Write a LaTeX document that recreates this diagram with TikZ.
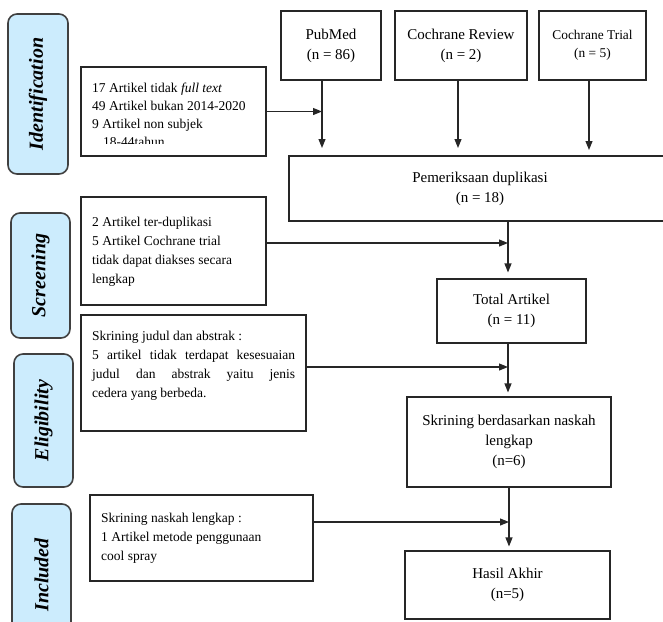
\documentclass[tikz,border=0pt]{standalone}
\usepackage{fontspec}
\setmainfont{Liberation Serif}
\usetikzlibrary{arrows.meta, positioning}
\usepackage{xcolor}
\definecolor{stagecol}{RGB}{204,236,253}

\tikzset{
  stagebox/.style={draw=black!75, line width=1.6pt, fill=stagecol, rounded corners=9pt,
    rotate=90, font=\fontsize{20}{24}\selectfont\bfseries\itshape},
  flowbox/.style={draw=black!85, line width=1.1pt, align=center,
    font=\fontsize{15}{20}\selectfont},
  notebox/.style={draw=black!85, line width=1.1pt},
  notetext/.style={anchor=north west, inner sep=0pt, align=left,
    font=\fontsize{13.5}{19}\selectfont},
  arr/.style={line width=1.1pt, draw=black!85, -{Triangle[length=9pt,width=7pt]}}
}

\begin{document}
\begin{tikzpicture}[x=1pt, y=-1pt]
  \clip (0,0) rectangle (663,621);

  % stage labels
  \node[stagebox, minimum width=160pt, minimum height=60pt] (ident) at (38,94) {Identification};
  \node[stagebox, minimum width=125pt, minimum height=59pt] (screen) at (40.5,275.5) {Screening};
  \node[stagebox, minimum width=133pt, minimum height=59pt] (elig) at (43.5,420.5) {Eligibility};
  \node[stagebox, minimum width=142pt, minimum height=59pt] (incl) at (41.5,575) {Included};

  % sources
  \node[flowbox, minimum width=100pt, minimum height=69pt] (pubmed) at (331,45.5) {PubMed\\(n = 86)};
  \node[flowbox, minimum width=132pt, minimum height=69pt] (crev) at (461,45.5) {Cochrane Review\\(n = 2)};
  \node[flowbox, minimum width=107pt, minimum height=69pt,
    font=\fontsize{13.4}{18}\selectfont] (ctrial) at (592.5,45.5) {Cochrane Trial\\(n = 5)};

  % main flow
  \node[flowbox, minimum width=382pt, minimum height=65pt] (dup) at (480,188.5) {Pemeriksaan duplikasi\\(n = 18)};
  \node[flowbox, minimum width=149pt, minimum height=64pt] (total) at (511.5,311) {Total Artikel\\(n = 11)};
  \node[flowbox, minimum width=204pt, minimum height=90pt] (fulltext) at (509,442) {Skrining berdasarkan naskah\\lengkap\\(n=6)};
  \node[flowbox, minimum width=205pt, minimum height=68pt] (final) at (507.5,585) {Hasil Akhir\\(n=5)};

  % exclusion boxes
  \node[notebox, minimum width=185pt, minimum height=89pt] (excl1) at (173.5,111.5) {};
  \node[notebox, minimum width=185pt, minimum height=108pt] (excl2) at (173.5,251) {};
  \node[notebox, minimum width=225pt, minimum height=116pt] (excl3) at (193.5,373) {};
  \node[notebox, minimum width=223pt, minimum height=86pt] (excl4) at (201.5,538) {};

  % exclusion texts
  \begin{scope}
    \clip (81,67) rectangle (266,143);
    \node[notetext, font=\fontsize{13.5}{18}\selectfont] (excl1txt) at (92,82.5)
      {17 Artikel tidak \textit{full text}\\49 Artikel bukan 2014-2020\\9 Artikel non subjek\\\hspace*{11pt}18-44tahun};
  \end{scope}
  \node[notetext] (excl2txt) at (92,216.5)
    {2 Artikel ter-duplikasi\\5 Artikel Cochrane trial\\tidak dapat diakses secara\\lengkap};
  \node[notetext] (excl3txt) at (92,330.5)
    {Skrining judul dan abstrak :\\\makebox[203pt][s]{5 artikel tidak terdapat kesesuaian}\\\makebox[203pt][s]{judul dan abstrak yaitu jenis}\\cedera yang berbeda.};
  \node[notetext] (excl4txt) at (101,512.5)
    {Skrining naskah lengkap :\\1 Artikel metode penggunaan\\cool spray};

  % arrows from sources
  \coordinate (tip1) at (322,148);
  \coordinate (tip2) at (458,148);
  \coordinate (tip3) at (589,150);
  \draw[arr] (pubmed.south -| tip1) -- (tip1);
  \draw[arr] (crev.south -| tip2) -- (tip2);
  \draw[arr] (ctrial.south -| tip3) -- (tip3);
  \draw[arr] (excl1.east) -- (excl1.east -| tip1);

  % arrows down the main flow
  \coordinate (join2) at (508,243);
  \coordinate (join3) at (508,367);
  \coordinate (join4) at (509,522);
  \draw[arr, shorten >=6pt] (dup.south -| join2) -- (join2 |- total.north);
  \draw[arr] (excl2.east |- join2) -- (join2);
  \draw[arr, shorten >=4pt] (total.south -| join3) -- (join3 |- fulltext.north);
  \draw[arr] (excl3.east |- join3) -- (join3);
  \draw[arr, shorten >=4pt] (fulltext.south -| join4) -- (join4 |- final.north);
  \draw[arr] (excl4.east |- join4) -- (join4);
\end{tikzpicture}
\end{document}
